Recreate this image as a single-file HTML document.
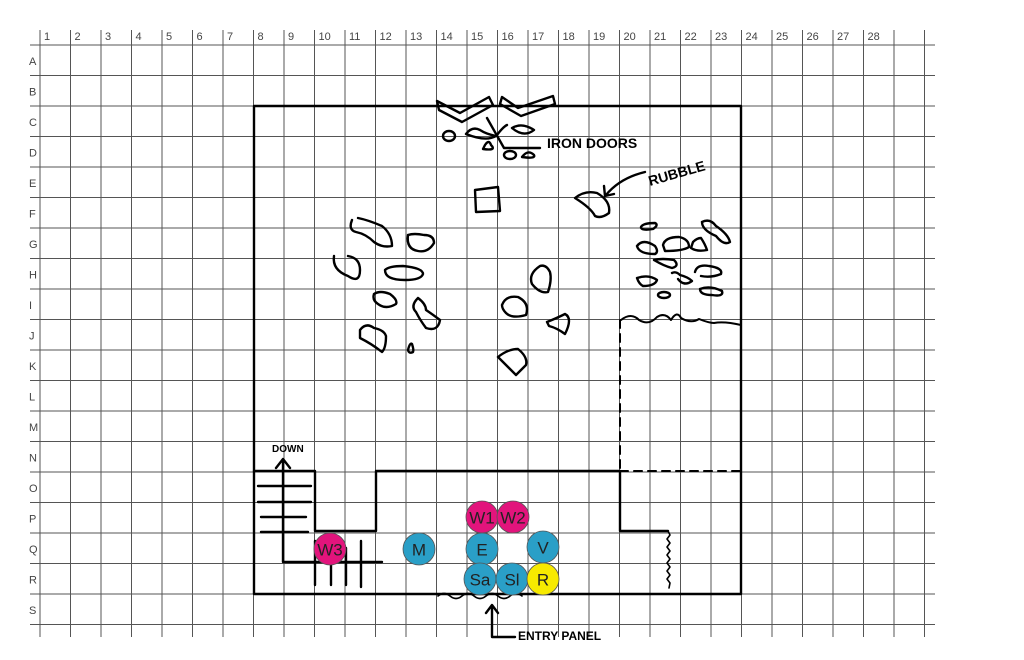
<!DOCTYPE html>
<html><head><meta charset="utf-8"><style>
html,body{margin:0;padding:0;background:#fff;}
svg{display:block;}
.g{stroke:#555;stroke-width:1;}
.lbl{font-family:"Liberation Sans",sans-serif;font-size:11px;fill:#444;}
.k{fill:none;stroke:#000;stroke-width:2.2;stroke-linejoin:round;stroke-linecap:round;}
.hw{font-family:"Liberation Sans",sans-serif;font-weight:bold;fill:#000;}
.ct{font-family:"Liberation Sans",sans-serif;font-size:17px;fill:#222;text-anchor:middle;dominant-baseline:central;}
</style></head><body>
<svg width="1024" height="660" viewBox="0 0 1024 660" xmlns="http://www.w3.org/2000/svg">
<rect width="1024" height="660" fill="#fff"/>
<g class="g" id="grid"></g>
<g id="labels"></g>
<script>
(function(){
var ns="http://www.w3.org/2000/svg",g=document.getElementById("grid"),L=document.getElementById("labels");
function ln(x1,y1,x2,y2){var e=document.createElementNS(ns,"line");e.setAttribute("x1",x1);e.setAttribute("y1",y1);e.setAttribute("x2",x2);e.setAttribute("y2",y2);g.appendChild(e);}
for(var i=0;i<=29;i++){var x=40+30.5*i;ln(x,30,x,637);}
for(var j=0;j<=19;j++){var y=45+30.5*j;ln(30,y,935,y);}
function tx(x,y,s){var e=document.createElementNS(ns,"text");e.setAttribute("x",x);e.setAttribute("y",y);e.setAttribute("class","lbl");e.textContent=s;L.appendChild(e);}
for(var i=1;i<=28;i++){tx(44+30.5*(i-1),40,String(i));}
var R="ABCDEFGHIJKLMNOPQRS";
for(var j=0;j<19;j++){tx(29,45+30.5*j+20,R[j]);}
})();
</script>
<!-- room -->
<g class="k" style="stroke-width:2.4">
<path d="M254,106 L741,106 L741,594 L254,594 Z"/>
<path d="M254,471 L315,471 L315,531 L376,531 L376,471 L620,471 L620,531 L668,531"/>
<path d="M668,531 l2,4 -3,4 3,4 -3,4 3,4 -3,4 3,4 -3,4 3,4 -3,4 3,4 -3,4 3,4 -1,5" style="stroke-width:1.6"/>
<path d="M620,320 L620,471 M620,471 L741,471" style="stroke-dasharray:8,6;stroke-width:2"/>
<path d="M621,320 q10,-8 18,0 q10,6 18,-3 q8,-5 14,3 q6,-10 10,-2 q10,6 18,1 q10,4 15,4 q10,-2 27,2" style="stroke-width:2"/>
<path d="M438,596 q6,-5 12,0 q6,5 12,0 q6,-5 12,0 q6,5 12,0 q6,-5 12,0 q6,5 12,0 q6,-5 12,0" style="stroke-width:1.6"/>
<!-- stairs -->
<path d="M283,562 L283,460 M276,468 L283,459 L290,468 M283,562 L382,562"/>
<path d="M258,486 L311,486 M258,502 L311,502 M261,517 L306,517 M261,532 L308,532"/>
<path d="M315,541 L315,585 M331,556 L331,585 M346,548 L346,585 M361,541 L361,587"/>
<!-- entry arrow -->
<path d="M492,637 L492,606 M486,613 L492,605 L498,613 M492,637 L515,637"/>
<!-- doors -->
<path d="M437,101 L460,113 L489,97 L493,105 L462,122 L439,110 Z"/>
<path d="M502,97 L518,108 L553,96 L555,104 L521,116 L500,104 Z"/>
<ellipse cx="449" cy="136" rx="6" ry="5"/>
<path d="M466,134 q6,-8 14,-4 q6,4 16,6 q-10,6 -30,-2 Z"/>
<path d="M487,118 L504,148 L540,148 M497,135 q6,-8 10,-10 M512,128 q10,-6 22,2 q-10,8 -22,-2"/>
<path d="M485,145 q4,-6 6,0 q6,6 -8,4 Z"/>
<ellipse cx="510" cy="155" rx="6" ry="4"/><path d="M522,157 q6,-8 12,-2 q2,4 -12,2 Z"/>
<path d="M475,190 L498,187 L500,211 L476,212 Z"/>
<path d="M575,198 q10,-8 22,-5 q14,8 12,20 q-8,6 -14,3 q-4,-8 -20,-18 Z"/>
<path d="M645,172 Q620,178 606,195 M604,186 L605,196 L614,194"/>
<!-- rubble left -->
<path d="M352,220 q-4,10 4,12 q10,2 18,10 q8,6 18,4 q0,-12 -10,-20 q-14,-6 -24,-8"/>
<path d="M408,235 q-2,14 10,16 q10,2 16,-8 q0,-8 -10,-8 q-10,-2 -16,0"/>
<path d="M334,256 q-2,14 14,20 q12,8 12,-6 q0,-12 -12,-14"/>
<path d="M385,270 q4,-4 18,-4 q20,2 20,8 q-2,6 -18,6 q-20,0 -20,-10"/>
<path d="M374,294 q6,-4 16,0 q8,6 6,10 q-10,6 -18,0 q-6,-4 -4,-10"/>
<path d="M418,298 q-8,8 -2,14 q4,8 10,16 q12,4 14,-8 q-8,-6 -14,-10 q0,-6 -8,-12"/>
<path d="M360,330 q6,-8 14,-2 q10,2 12,8 q0,12 -4,16 q-10,-8 -22,-14 Z"/>
<path d="M408,350 q2,-8 4,-6 q2,6 1,8 q-4,2 -5,-2"/>
<!-- rubble middle -->
<path d="M540,266 q-12,8 -8,18 q8,10 16,8 q4,-12 2,-20 q-4,-8 -10,-6"/>
<path d="M502,305 q4,-10 16,-8 q12,6 8,18 q-14,4 -20,-2 q-4,-4 -4,-8"/>
<path d="M547,322 q10,-4 18,-8 q8,4 0,20 q-8,-6 -16,-8 Z"/>
<path d="M498,357 q10,-8 20,-8 q10,8 8,16 q-6,6 -10,10 q-10,-10 -18,-18"/>
<!-- rubble right -->
<path d="M641,227 q2,-4 14,-4 q4,2 -2,6 q-12,2 -12,-2"/>
<path d="M637,246 q6,-8 18,0 q4,6 0,8 q-16,0 -18,-8"/>
<path d="M663,245 q2,-8 16,-8 q10,2 10,10 q-6,4 -24,4 Z"/>
<path d="M693,242 q4,-4 8,-4 q4,6 6,12 q-10,2 -16,-2 Z"/>
<path d="M702,222 q8,-4 14,4 q12,8 14,16 q-6,4 -14,-6 q-14,-6 -14,-14"/>
<path d="M654,260 q8,-2 20,0 q6,6 -2,8 q-8,-2 -18,-8"/>
<path d="M695,272 q2,-8 14,-6 q14,2 12,8 q-10,4 -20,2"/>
<path d="M637,278 q12,-4 20,2 q-2,6 -14,6 q-4,-2 -6,-8"/>
<path d="M672,273 q4,-2 8,2 q8,2 12,6 q-8,6 -14,-2"/>
<path d="M700,289 q10,-4 22,2 q2,6 -10,4 q-12,0 -12,-6"/>
<ellipse cx="664" cy="295" rx="6" ry="3"/>
</g>
<text class="hw" x="547" y="148" font-size="14">IRON DOORS</text>
<text class="hw" x="650" y="186" font-size="14" transform="rotate(-16 650 186)">RUBBLE</text>
<text class="hw" x="272" y="452" font-size="10">DOWN</text>
<text class="hw" x="518" y="640" font-size="12">ENTRY PANEL</text>
<!-- tokens -->
<g stroke="#555" stroke-width="0.8">
<circle cx="482" cy="517" r="16" fill="#e2147c"/>
<circle cx="513" cy="517" r="16" fill="#e2147c"/>
<circle cx="330" cy="549" r="16" fill="#e2147c"/>
<circle cx="419" cy="549" r="16" fill="#2a9fc7"/>
<circle cx="482" cy="549" r="16" fill="#2a9fc7"/>
<circle cx="543" cy="547" r="16" fill="#2a9fc7"/>
<circle cx="480" cy="579" r="16" fill="#2a9fc7"/>
<circle cx="512" cy="579" r="16" fill="#2a9fc7"/>
<circle cx="543" cy="579" r="16" fill="#f7ea00"/>
</g>
<text class="ct" x="482" y="518">W1</text>
<text class="ct" x="513" y="518">W2</text>
<text class="ct" x="330" y="550">W3</text>
<text class="ct" x="419" y="550">M</text>
<text class="ct" x="482" y="550">E</text>
<text class="ct" x="543" y="548">V</text>
<text class="ct" x="480" y="580">Sa</text>
<text class="ct" x="512" y="580">Sl</text>
<text class="ct" x="543" y="580">R</text>
</svg>
</body></html>
